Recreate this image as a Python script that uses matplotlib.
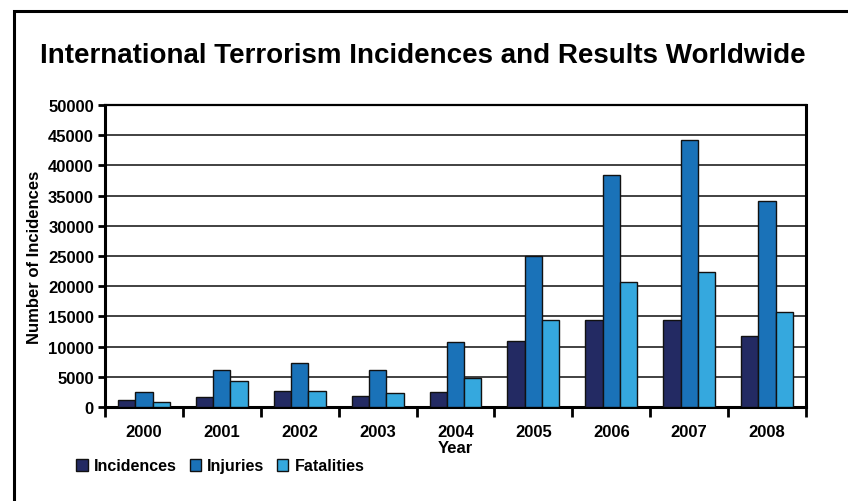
import numpy as np
import matplotlib.pyplot as plt
from matplotlib.patches import Rectangle

plt.rcParams['font.family'] = ['Liberation Sans', 'DejaVu Sans']

years = ['2000', '2001', '2002', '2003', '2004', '2005', '2006', '2007', '2008']
incidences = [1100, 1650, 2650, 1770, 2540, 10930, 14350, 14450, 11700]
injuries = [2430, 6180, 7230, 6130, 10760, 25000, 38400, 44200, 34100]
fatalities = [830, 4360, 2650, 2260, 4860, 14350, 20750, 22400, 15680]

series = [('Incidences', incidences, '#232a63'),
          ('Injuries', injuries, '#1a72b8'),
          ('Fatalities', fatalities, '#35a8de')]

fig = plt.figure(figsize=(8.48, 5.02), dpi=100)
ax = fig.add_axes([105 / 848, 1 - 408 / 502, 701 / 848, 302 / 502])

x = np.arange(len(years))
w = 0.222
for i, (name, vals, col) in enumerate(series):
    ax.bar(x + (i - 1) * w, vals, w, color=col, edgecolor='#111111',
           linewidth=1.0, label=name, zorder=3)

ax.set_xlim(-0.5, len(years) - 0.5)
ax.set_ylim(0, 50000)
ax.set_yticks(np.arange(0, 50001, 5000))
ax.yaxis.grid(True, color='#333333', linewidth=1.3, zorder=0)

# category ticks sit between the groups, labels in the middle
ax.set_xticks(np.arange(-0.5, len(years), 1))
ax.set_xticklabels([])
ax.set_xticks(x, minor=True)
ax.set_xticklabels(years, minor=True, fontsize=12, fontweight='bold')
ax.tick_params(axis='x', which='major', length=7, width=2, direction='out')
ax.tick_params(axis='x', which='minor', length=0, pad=12)
ax.tick_params(axis='y', length=5, width=2, labelsize=12, pad=3)
for lbl in ax.get_yticklabels():
    lbl.set_fontweight('bold')

for s in ['left', 'bottom', 'right']:
    ax.spines[s].set_linewidth(2.2)
ax.spines['top'].set_linewidth(1.6)

ax.set_xlabel('Year', fontsize=12, fontweight='bold', labelpad=1)
ax.set_ylabel('Number of Incidences', fontsize=12, fontweight='bold', labelpad=4)

fig.text(0.5 - 1 / 848, 1 - 56 / 502, 'International Terrorism Incidences and Results Worldwide',
         ha='center', va='center', fontsize=20, fontweight='bold')

fig.legend(loc='center left', bbox_to_anchor=(70 / 848, 1 - 467 / 502), ncol=3,
           frameon=False, prop={'weight': 'bold', 'size': 11.5},
           handlelength=0.7, handleheight=0.7, handletextpad=0.4, columnspacing=0.8,
           borderaxespad=0)

# outer frame around the whole figure
fig.patches.append(Rectangle((14 / 848, -0.05), 1.0, 1 - 12 / 502 + 0.05,
                             transform=fig.transFigure, fill=False,
                             edgecolor='black', linewidth=2.2, clip_on=False))

fig.savefig('out.png', dpi=100)
